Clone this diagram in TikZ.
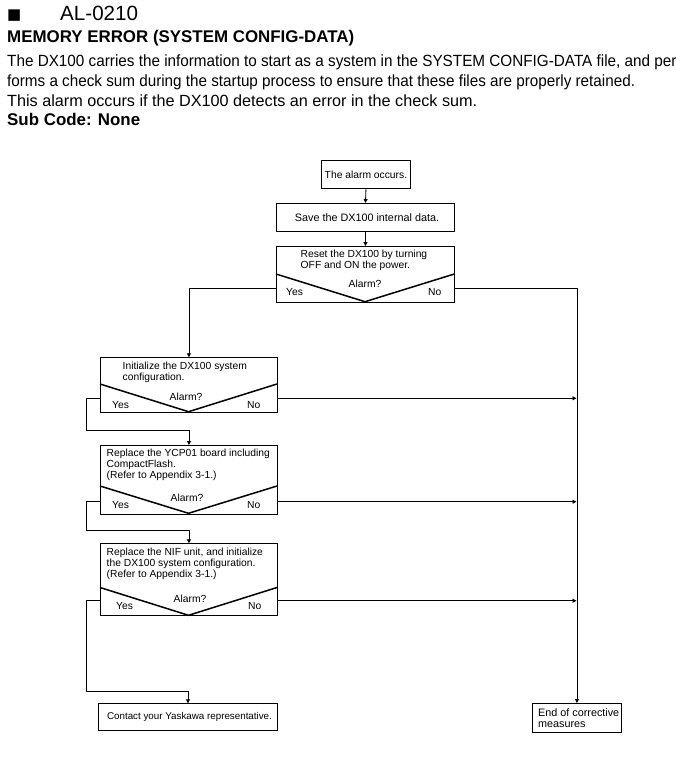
\documentclass[tikz,border=0pt]{standalone}
\usepackage{graphicx}
\usepackage{fontspec}
\setmainfont{Liberation Sans}
\newfontfamily\dejavu{DejaVu Sans}
\usetikzlibrary{arrows.meta}
\begin{document}
\begin{tikzpicture}[x=1pt,y=-1pt,
  fc/.style={font=\fontsize{10.3}{11}\selectfont},
  box/.style={draw, line width=0.9pt, inner sep=0pt, anchor=north west, fc},
  txt/.style={inner sep=0pt, fc},
  mtxt/.style={inner sep=0pt, fc, align=left, anchor=north west},
  body/.style={inner sep=0pt, anchor=base west, font=\fontsize{16.2}{20}\selectfont},
  bbody/.style={inner sep=0pt, anchor=base west, font=\fontsize{16.9}{20}\selectfont\bfseries},
  arr/.style={line width=0.8pt, -{Triangle[length=4pt,width=4pt]}},
  vee/.style={line width=1.5pt, line join=miter}
]
\useasboundingbox (0,0) rectangle (676,784);

% header
\node[inner sep=0pt, anchor=base west, font=\dejavu\fontsize{15}{15}\selectfont] (sq) at (7,20) {■};
\node[inner sep=0pt, anchor=base west, font=\fontsize{20.6}{24}\selectfont] (al) at (60,20.7) {AL-0210};
\node[bbody] (ttl) at (7,42.7) {MEMORY ERROR (SYSTEM CONFIG-DATA)};
\node[body] (l1) at (7,66.7) {\scalebox{0.943}[1]{The DX100 carries the information to start as a system in the SYSTEM CONFIG-DATA file, and per}};
\node[body] (l2) at (7,86.7) {\scalebox{0.941}[1]{forms a check sum during the startup process to ensure that these files are properly retained.}};
\node[body] (l3) at (7,106.7) {This alarm occurs if the DX100 detects an error in the check sum.};
\node[bbody] (sub) at (7,125) {Sub Code: None};

% boxes
\node[box, minimum width=89, minimum height=28] (b1) at (321,160) {The alarm occurs.};
\node[box, minimum width=178, minimum height=28] (b2) at (276,203) {};
\node[txt, font=\fontsize{10.8}{11}\selectfont] (t2) at (367,217.5) {Save the DX100 internal data.};
\node[box, minimum width=178, minimum height=56] (b3) at (276,246) {};
\node[box, minimum width=177, minimum height=54.5] (b4) at (100,357.3) {};
\node[box, minimum width=177, minimum height=68.5] (b5) at (100,445) {};
\node[box, minimum width=177, minimum height=72] (b6) at (100,543.3) {};
\node[box, minimum width=178.5, minimum height=27] (b7) at (98.3,703.3) {};
\node[txt, font=\fontsize{9.8}{11}\selectfont] (t7) at (189.5,717) {Contact your Yaskawa representative.};
\node[box, minimum width=89, minimum height=29] (b8) at (532,703) {};

% box texts
\node[mtxt] (t3) at (300.5,250.3) {Reset the DX100 by turning\\OFF and ON the power.};
\node[mtxt] (t4) at (122.5,361.5) {Initialize the DX100 system\\configuration.};
\node[mtxt] (t5) at (106.5,449.3) {Replace the YCP01 board including\\CompactFlash.\\(Refer to Appendix 3-1.)};
\node[mtxt] (t6) at (106.5,548.3) {Replace the NIF unit, and initialize\\the DX100 system configuration.\\(Refer to Appendix 3-1.)};
\node[mtxt, font=\fontsize{10.8}{11.5}\selectfont] (t8) at (538,708) {End of corrective\\measures};

% decision parts
\draw[vee] (276,274) -- (365,301.7) -- (454.3,274);
\node[txt, anchor=base] (a3) at (365,287) {Alarm?};
\node[txt, anchor=base west] (y3) at (286,295.6) {Yes};
\node[txt, anchor=base west] (n3) at (428,295.6) {No};

\draw[vee] (100,384) -- (188.5,411.7) -- (277,384);
\node[txt, anchor=base] (a4) at (186,400.6) {Alarm?};
\node[txt, anchor=base west] (y4) at (112,408.3) {Yes};
\node[txt, anchor=base west] (n4) at (247,408.3) {No};

\draw[vee] (100,486) -- (188.5,513.3) -- (277,486);
\node[txt, anchor=base] (a5) at (187,501.3) {Alarm?};
\node[txt, anchor=base west] (y5) at (112,508.8) {Yes};
\node[txt, anchor=base west] (n5) at (247,508.8) {No};

\draw[vee] (100,587.5) -- (188.5,615.3) -- (277,587.5);
\node[txt, anchor=base] (a6) at (190,602) {Alarm?};
\node[txt, anchor=base west] (y6) at (116,609.6) {Yes};
\node[txt, anchor=base west] (n6) at (248,609.6) {No};

% exit coordinates
\coordinate (b3y) at (276,288);
\coordinate (b3n) at (454.3,288);
\coordinate (b4y) at (100,398.3);
\coordinate (b4n) at (277,398.3);
\coordinate (b5y) at (100,501.7);
\coordinate (b5n) at (277,501.7);
\coordinate (b6y) at (100,600.7);
\coordinate (b6n) at (277,600.7);
\coordinate (j4) at (576.5,398.3);
\coordinate (j5) at (576.5,501.7);
\coordinate (j6) at (576.5,600.7);

% connectors
\draw[arr] (b1.south) -- (b2.north);
\draw[arr] (b2.south) -- (b3.north);
\draw[arr] (b3y) -| (b4.north);
\draw[arr] (b3n) -| (b8.north);
\draw[arr] (b4y) -- (86.7,398.3) -- (86.7,430) -| (b5.north);
\draw[arr] (b5y) -- (86.7,501.7) -- (86.7,530) -| (b6.north);
\draw[arr] (b6y) -- (86.7,600.7) -- (86.7,691.7) -| (b7.north);
\draw[arr] (b4n) -- (j4);
\draw[arr] (b5n) -- (j5);
\draw[arr] (b6n) -- (j6);
\end{tikzpicture}
\end{document}
